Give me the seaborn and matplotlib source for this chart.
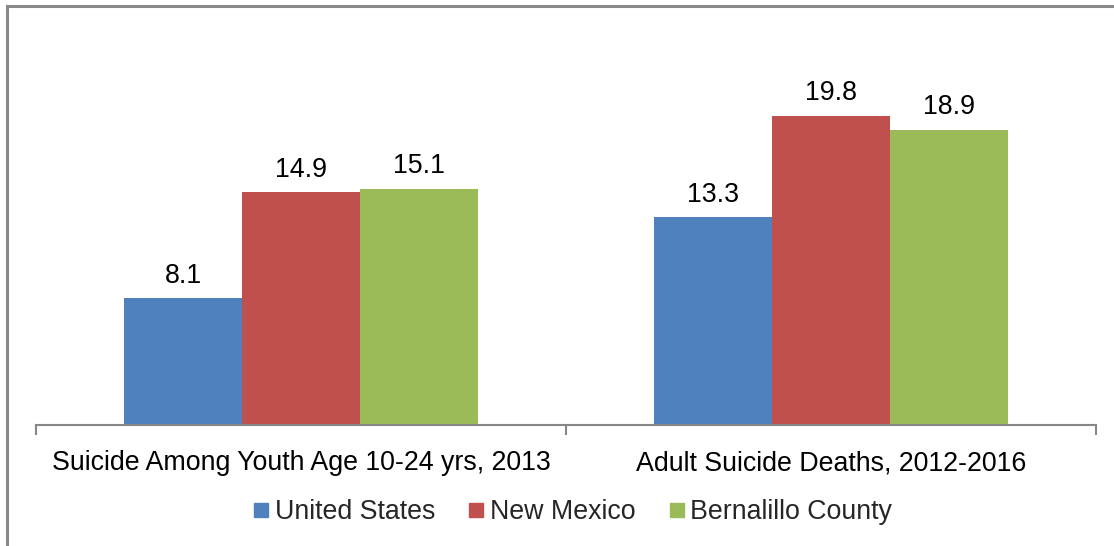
import matplotlib
matplotlib.use("Agg")
import matplotlib.pyplot as plt
import seaborn as sns
import pandas as pd
from matplotlib.patches import Rectangle
from matplotlib.lines import Line2D

categories = ["Suicide Among Youth Age 10-24 yrs, 2013", "Adult Suicide Deaths, 2012-2016"]
regions = ["United States", "New Mexico", "Bernalillo County"]
united_states = [8.1, 13.3]
new_mexico = [14.9, 19.8]
bernalillo = [15.1, 18.9]
colors = ["#4F81BD", "#C0504D", "#9BBB59"]

rows = []
for region, vals in zip(regions, [united_states, new_mexico, bernalillo]):
    for cat, v in zip(categories, vals):
        rows.append({"category": cat, "region": region, "rate": v})
df = pd.DataFrame(rows)

sns.set_theme(style="white")
plt.rcParams["font.family"] = ["Liberation Sans", "DejaVu Sans"]

W, H = 1114, 546
FS = 19.3
fig = plt.figure(figsize=(W / 100, H / 100), dpi=100)
ax = fig.add_axes([36 / W, (H - 425) / H, (1096 - 36) / W, (425 - 34.5) / H])

sns.barplot(data=df, x="category", y="rate", hue="region", hue_order=regions,
            order=categories, palette=colors, width=0.668, gap=0,
            saturation=1, edgecolor="none", legend=False, ax=ax)

ax.set_xlim(-0.5, 1.5)
ax.set_ylim(0, 25)
ax.set_xlabel("")
ax.set_ylabel("")
ax.set_yticks([])
for s in ["left", "right", "top"]:
    ax.spines[s].set_visible(False)
ax.spines["bottom"].set_color("#878787")
ax.spines["bottom"].set_linewidth(1.5)

ax.set_xticks([0, 1])
ax.set_xticklabels(categories, fontsize=FS, color="black")
ax.tick_params(axis="x", which="major", bottom=True, length=0, pad=18)
ax.set_xticks([-0.5, 0.5, 1.5], minor=True)
ax.tick_params(axis="x", which="minor", bottom=True, length=7, width=1.5,
               color="#878787", direction="out")

for cont in ax.containers:
    ax.bar_label(cont, fmt="%.1f", padding=7, fontsize=FS, color="black")

handles = [Line2D([], [], marker="s", linestyle="none", markersize=10.5,
                  markerfacecolor=c, markeredgecolor=c) for c in colors]
fig.legend(handles, regions, loc="center", bbox_to_anchor=(570 / W, (H - 512) / H),
           ncol=3, frameon=False, fontsize=FS, handletextpad=0.0,
           columnspacing=1.05, handlelength=1.0)

# outer chart frame
fig.patches.append(Rectangle((6.5 / W, -0.1), 1.2, (H - 6) / H + 0.1, transform=fig.transFigure,
                             fill=False, edgecolor="#898989", linewidth=2.2))

fig.savefig("out.png", dpi=100, facecolor="white")
